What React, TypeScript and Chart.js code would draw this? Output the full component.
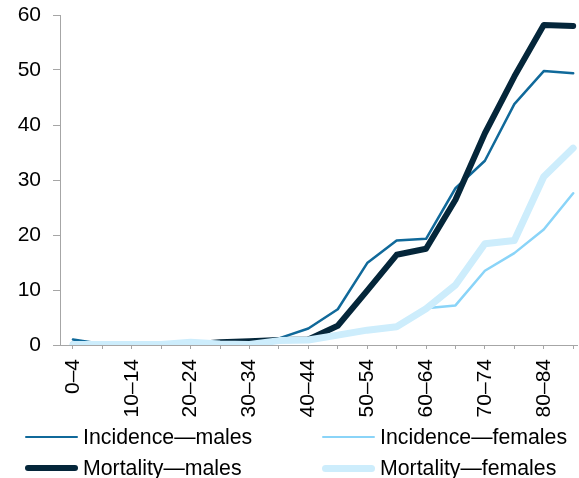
import React, { useEffect, useRef } from "react";
import { Chart, registerables } from "chart.js";

Chart.register(...registerables);

const ageGroups = [
  "0–4", "5–9", "10–14", "15–19", "20–24", "25–29", "30–34", "35–39", "40–44",
  "45–49", "50–54", "55–59", "60–64", "65–69", "70–74", "75–79", "80–84", "85+",
];

const incidenceMales = [1.0, 0.2, 0.2, 0.3, 0.3, 0.4, 0.6, 1.2, 3.0, 6.5, 14.9, 19.0, 19.3, 28.5, 33.5, 43.8, 49.8, 49.4];
const incidenceFemales = [0.2, 0.1, 0.1, 0.2, 0.3, 0.3, 0.2, 0.8, 1.0, 1.6, 2.5, 3.3, 6.7, 7.2, 13.5, 16.7, 21.0, 27.6];
const mortalityMales = [0.1, 0.1, 0.1, 0.1, 0.1, 0.5, 0.7, 0.9, 1.0, 3.5, 9.9, 16.4, 17.5, 26.4, 38.5, 48.8, 58.2, 58.0];
const mortalityFemales = [0.1, 0.1, 0.1, 0.1, 0.5, 0.2, 0.1, 0.8, 0.9, 1.8, 2.7, 3.3, 6.6, 10.9, 18.4, 19.0, 30.6, 35.8];

const yTicks = [0, 10, 20, 30, 40, 50, 60];

const seriesNames = ["Incidence—males", "Incidence—females", "Mortality—males", "Mortality—females"];
const seriesColors = ["#10699A", "#8AD4F8", "#04263A", "#CDEDFC"];
const seriesWidths = [2.5, 2.5, 6, 7];
const seriesOrder = [2, 3, 1, 0];

const FONT = "'Liberation Sans', Arial, sans-serif";
const W = 579;
const H = 478;

function toPoints(values: number[]) {
  return values.map((v, i) => ({ x: i, y: v }));
}

export default function App() {
  const canvasRef = useRef<HTMLCanvasElement | null>(null);

  useEffect(() => {
    const canvas = canvasRef.current;
    if (!canvas) return;
    const allSeries = [incidenceMales, incidenceFemales, mortalityMales, mortalityFemales];
    const chart = new Chart(canvas, {
      type: "line",
      data: {
        datasets: allSeries.map((vals, k) => ({
          label: seriesNames[k],
          data: toPoints(vals),
          borderColor: seriesColors[k],
          backgroundColor: seriesColors[k],
          borderWidth: seriesWidths[k],
          order: seriesOrder[k],
          pointRadius: 0,
          tension: 0,
          borderCapStyle: "round" as const,
          borderJoinStyle: "round" as const,
          fill: false,
        })),
      },
      options: {
        responsive: false,
        animation: false,
        devicePixelRatio: 1,
        layout: { padding: { top: 15, right: 2, left: 0, bottom: 0 } },
        plugins: {
          legend: { display: false },
          tooltip: { enabled: false },
        },
        scales: {
          x: {
            type: "linear",
            min: -0.44,
            max: 17.13,
            afterFit: (scale: any) => {
              scale.height = H - 345;
              scale.paddingLeft = 0;
              scale.paddingRight = 0;
            },
            border: { display: true, color: "#A6A6A6", width: 1 },
            grid: { drawOnChartArea: false, drawTicks: true, tickLength: 4, color: "#A6A6A6" },
            ticks: {
              stepSize: 1,
              includeBounds: false,
              autoSkip: false,
              minRotation: 90,
              maxRotation: 90,
              padding: 10,
              color: "#000",
              font: { family: FONT, size: 21 },
              callback: (value: any) => {
                const i = Number(value);
                return Number.isInteger(i) && i % 2 === 0 && i < ageGroups.length ? ageGroups[i] : "";
              },
            },
          },
          y: {
            type: "linear",
            min: yTicks[0],
            max: yTicks[yTicks.length - 1],
            afterFit: (scale: any) => {
              scale.width = 60;
              scale.paddingTop = 0;
              scale.paddingBottom = 0;
            },
            afterBuildTicks: (scale: any) => {
              scale.ticks = yTicks.map((v) => ({ value: v }));
            },
            border: { display: true, color: "#A6A6A6", width: 1 },
            grid: { drawOnChartArea: false, drawTicks: true, tickLength: 7, color: "#A6A6A6" },
            ticks: {
              padding: 12,
              color: "#000",
              font: { family: FONT, size: 21 },
            },
          },
        },
      },
    });
    return () => chart.destroy();
  }, []);

  const legendItems = [
    { k: 0, lineLeft: 25, top: 437 },
    { k: 1, lineLeft: 322, top: 437 },
    { k: 2, lineLeft: 25, top: 468 },
    { k: 3, lineLeft: 322, top: 468 },
  ];

  return (
    <div style={{ position: "absolute", left: 0, top: 0, width: W, height: H, background: "#fff", overflow: "hidden" }}>
      <canvas ref={canvasRef} width={W} height={H} style={{ display: "block", width: W, height: H }} />
      {legendItems.map((it) => (
        <div key={it.k}>
          <div
            style={{
              position: "absolute",
              left: it.lineLeft,
              top: it.top - seriesWidths[it.k] / 2,
              width: 53,
              height: seriesWidths[it.k],
              borderRadius: seriesWidths[it.k] / 2,
              background: seriesColors[it.k],
            }}
          />
          <div
            style={{
              position: "absolute",
              left: it.lineLeft + 58,
              top: it.top - 15,
              height: 30,
              lineHeight: "30px",
              fontFamily: FONT,
              fontSize: 21.3,
              color: "#000",
              whiteSpace: "nowrap",
            }}
          >
            {seriesNames[it.k]}
          </div>
        </div>
      ))}
    </div>
  );
}
